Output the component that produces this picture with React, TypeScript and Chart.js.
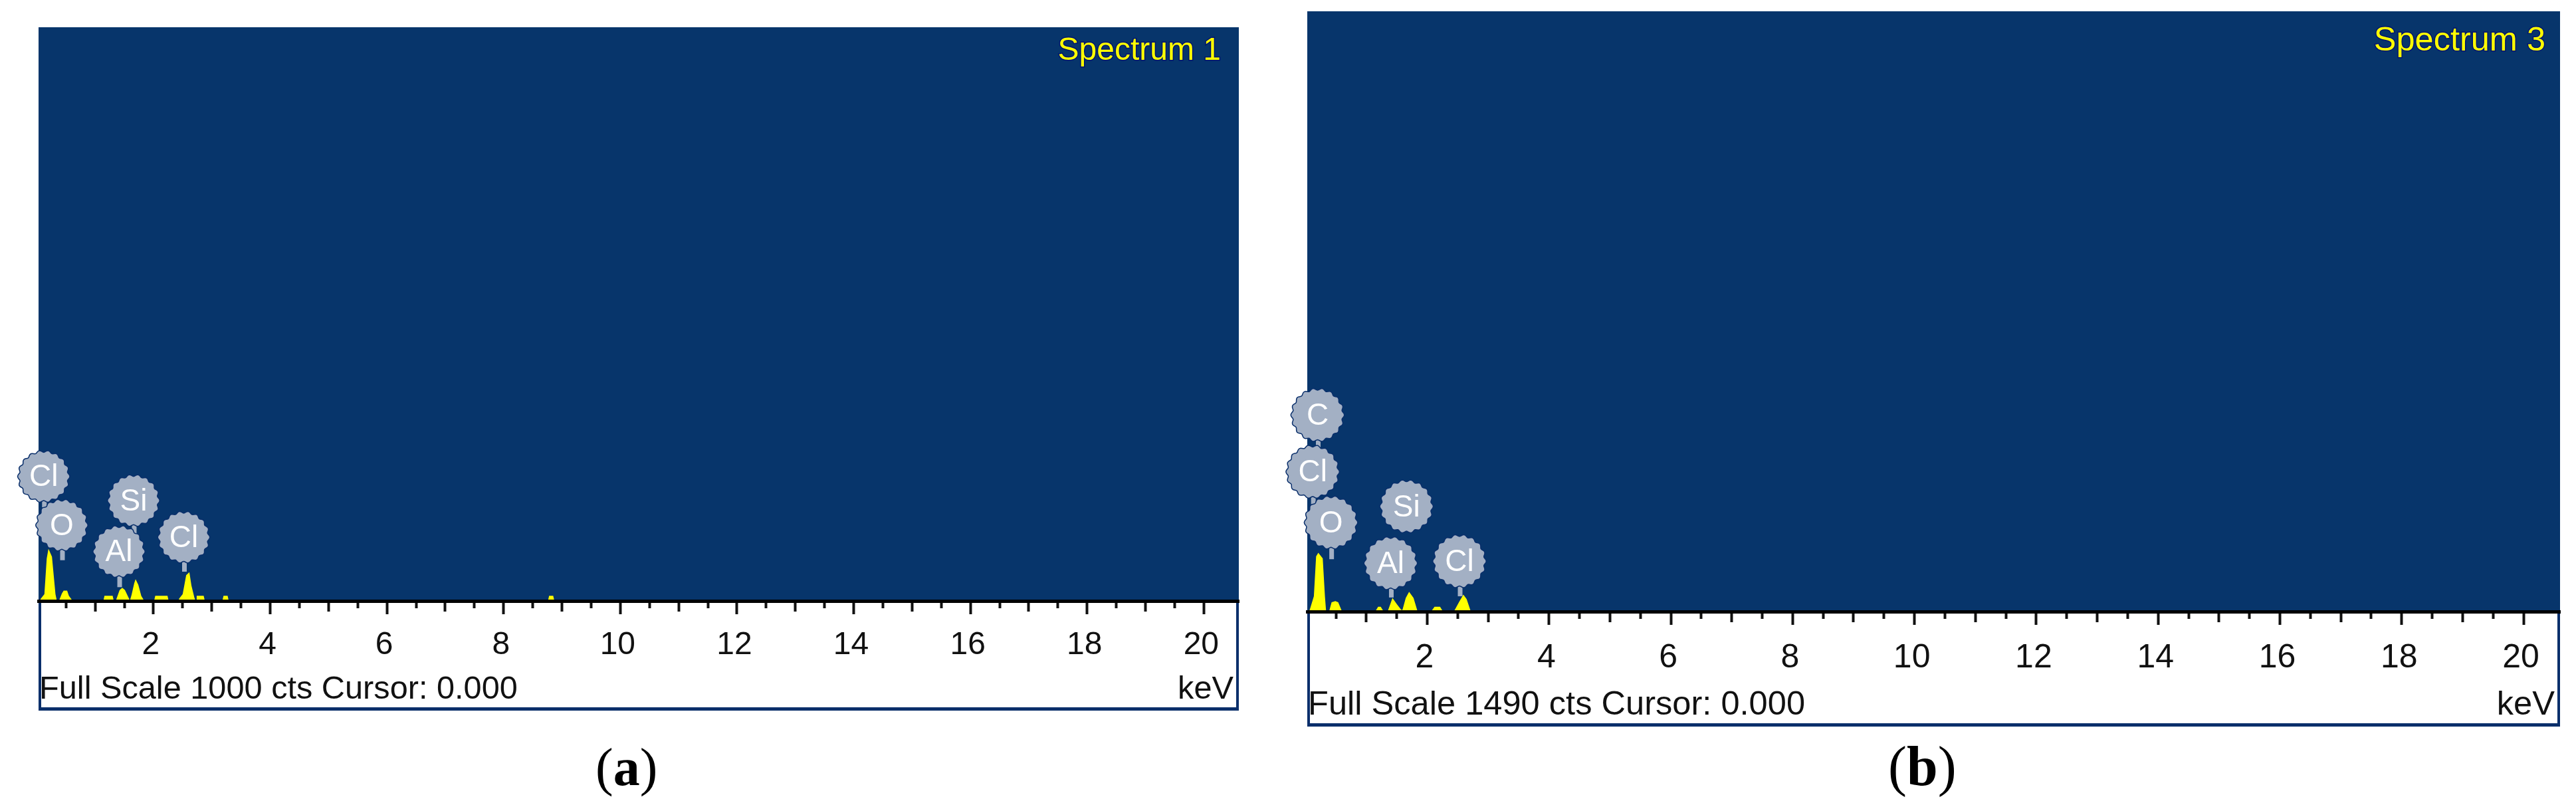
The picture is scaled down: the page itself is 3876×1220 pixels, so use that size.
import { useEffect, useRef } from 'react';
import Chart from 'chart.js/auto';

// Tick positions in keV (same for both spectra)
const longTicks = [2, 4, 6, 8, 10, 12, 14, 16, 18, 20];
const midTicks = [1, 3, 5, 7, 9, 11, 13, 15, 17, 19];
const shortTicks = [0.5, 1.5, 2.5, 3.5, 4.5, 5.5, 6.5, 7.5, 8.5, 9.5, 10.5, 11.5, 12.5, 13.5, 14.5, 15.5, 16.5, 17.5, 18.5, 19.5];

// Spectrum 1
const energy1 = [
  0.05, 0.07, 0.13, 0.17, 0.2, 0.26, 0.32, 0.34, 0.38, 0.39, 0.43, 0.46, 0.52, 0.55, 0.6, 0.62,
  1.14, 1.16, 1.3, 1.32, 1.36, 1.42, 1.465, 1.51, 1.59, 1.6, 1.625, 1.67, 1.693, 1.74, 1.79, 1.83, 1.85,
  2.01, 2.03, 2.24, 2.26, 2.43, 2.44, 2.5, 2.56, 2.615, 2.65, 2.7, 2.72, 2.73, 2.74, 2.86, 2.88,
  3.18, 3.2, 3.27, 3.29, 8.76, 8.78, 8.85, 8.87, 20.5,
];
const counts1 = [
  0, 4, 12, 74, 91, 77, 12, 2, 0, 3, 13, 18, 18, 9, 2, 0,
  0, 9, 9, 0, 2, 19, 23, 19, 2, 2, 11, 31, 38, 28, 9, 2, 0,
  0, 9, 9, 0, 0, 4, 12, 45, 50, 27, 6, 0, 0, 9, 9, 0,
  0, 9, 9, 0, 0, 9, 9, 0, 0,
];
const peakNames1 = ['Cl', 'O', 'Si', 'Al', 'Cl'];
const peakEnergy1 = [0.13, 0.44, 1.67, 1.42, 2.53];
const peakHeight1 = [217, 132, 175, 86, 111];
const peakStem1 = [163, 71, 112, 24, 51];

// Spectrum 3
const energy3 = [
  0.06, 0.084, 0.138, 0.175, 0.211, 0.284, 0.32, 0.338, 0.37, 0.393, 0.429, 0.491, 0.538, 0.593, 0.62,
  1.14, 1.157, 1.193, 1.236, 1.273, 1.29, 1.34, 1.356, 1.429, 1.502, 1.574, 1.593, 1.647, 1.702, 1.775, 1.836, 1.86,
  2.06, 2.076, 2.12, 2.21, 2.247, 2.26, 2.43, 2.447, 2.52, 2.593, 2.647, 2.709, 2.73, 20.5,
];
const counts3 = [
  0, 11, 38, 137, 146, 132, 38, 3, 0, 3, 23, 26, 23, 3, 0,
  0, 3, 12, 12, 3, 0, 0, 3, 34, 18, 4, 4, 34, 49, 34, 3, 0,
  0, 3, 12, 12, 3, 0, 0, 3, 23, 42, 31, 3, 0, 0,
];
const peakNames3 = ['C', 'Cl', 'O', 'Si', 'Al', 'Cl'];
const peakEnergy3 = [0.21, 0.13, 0.43, 1.67, 1.41, 2.54];
const peakHeight3 = [488, 347, 221, 261, 120, 125];
const peakStem3 = [396, 256, 130, 198, 35, 38];

const FONT = '"Liberation Sans", Arial, sans-serif';
const PANEL_BLUE = '#07356b';
const FRAME_BLUE = '#0a2f6b';

function badgePath(ctx: CanvasRenderingContext2D, cx: number, cy: number, r: number) {
  ctx.beginPath();
  for (let i = 0; i <= 144; i++) {
    const a = (i / 144) * Math.PI * 2;
    const rr = r + 1.5 * Math.cos(a * 18);
    if (i === 0) ctx.moveTo(cx + rr * Math.cos(a), cy + rr * Math.sin(a));
    else ctx.lineTo(cx + rr * Math.cos(a), cy + rr * Math.sin(a));
  }
  ctx.closePath();
}

interface PanelProps {
  left: number;
  width: number;
  panelLeft: number;
  panelRight: number;
  panelTop: number;
  baseline: number;
  panelBottom: number;
  fullScale: number;
  energy: number[];
  counts: number[];
  peakNames: string[];
  peakEnergy: number[];
  peakHeight: number[];
  peakStem: number[];
  badgeSize: number;
  title: string;
  titleSize: number;
  titleInset: number;
  titleDrop: number;
  footer: string;
  footerSize: number;
  tickSize: number;
  tickPadding: number;
}

const HEIGHT = 1110;
const AXIS_HEIGHT = 180;

const SpectrumPanel: React.FC<PanelProps> = (p) => {
  const canvasRef = useRef<HTMLCanvasElement>(null);

  useEffect(() => {
    if (!canvasRef.current) return;

    const panelPlugin = {
      id: 'panel',
      beforeDraw(chart: any) {
        const { ctx, chartArea } = chart;
        const { left, right, top, bottom } = chartArea;
        ctx.save();
        ctx.fillStyle = FRAME_BLUE;
        ctx.fillRect(left, bottom, right - left, p.panelBottom - bottom);
        ctx.fillStyle = PANEL_BLUE;
        ctx.fillRect(left, top, right - left, bottom - top);
        ctx.fillStyle = '#ffffff';
        ctx.fillRect(left + 4, bottom, right - left - 8, p.panelBottom - bottom - 5);
        ctx.restore();
      },
      afterDraw(chart: any) {
        const { ctx, chartArea, scales } = chart;
        ctx.save();

        // stems, then badges on top
        p.peakNames.forEach((_, i) => {
          const x = scales.x.getPixelForValue(p.peakEnergy[i]);
          ctx.fillStyle = '#a3b0c4';
          const y0 = scales.y.getPixelForValue(p.peakHeight[i]);
          const y1 = scales.y.getPixelForValue(p.peakStem[i]);
          ctx.fillRect(x - 3.5, y0, 7, y1 - y0);
        });
        p.peakNames.forEach((name, i) => {
          const x = scales.x.getPixelForValue(p.peakEnergy[i]) - 1;
          const y = scales.y.getPixelForValue(p.peakHeight[i]);
          badgePath(ctx, x, y, p.badgeSize);
          ctx.fillStyle = '#a3b0c4';
          ctx.strokeStyle = '#0a2f6b';
          ctx.lineWidth = 3;
          ctx.stroke();
          ctx.fill();
          ctx.fillStyle = '#ffffff';
          ctx.font = `46px ${FONT}`;
          ctx.textAlign = 'center';
          ctx.textBaseline = 'middle';
          ctx.fillText(name, x, y + 2);
        });

        // spectrum name
        ctx.font = `${p.titleSize}px ${FONT}`;
        ctx.textAlign = 'right';
        ctx.textBaseline = 'alphabetic';
        ctx.lineWidth = 3;
        ctx.strokeStyle = '#00146e';
        const titleX = chartArea.right - p.titleInset;
        const titleY = chartArea.top + p.titleDrop;
        ctx.strokeText(p.title, titleX, titleY);
        ctx.fillStyle = '#ffff00';
        ctx.fillText(p.title, titleX, titleY);

        // footer line
        ctx.fillStyle = '#111111';
        ctx.font = `${p.footerSize}px ${FONT}`;
        ctx.textAlign = 'left';
        ctx.fillText(p.footer, chartArea.left + 1, p.panelBottom - 18);
        ctx.textAlign = 'right';
        ctx.fillText('keV', chartArea.right - 8, p.panelBottom - 18);
        ctx.restore();
      },
    };

    const bareAxis = (values: number[], length: number) => ({
      type: 'linear' as const,
      axis: 'x' as const,
      position: { y: 0 },
      min: 0.03,
      max: 20.6,
      afterBuildTicks: (scale: any) => {
        scale.ticks = values.map((value) => ({ value }));
      },
      border: { display: false },
      grid: { drawOnChartArea: false, drawTicks: true, tickLength: length, tickColor: '#111111', tickWidth: 4 },
      ticks: { display: false },
    });

    const chart = new Chart(canvasRef.current, {
      type: 'line',
      data: {
        datasets: [
          {
            data: p.energy.map((x, i) => ({ x, y: p.counts[i] })),
            borderWidth: 0,
            pointRadius: 0,
            tension: 0,
            fill: 'origin',
            backgroundColor: '#ffff00',
            borderColor: '#ffff00',
          },
        ],
      },
      plugins: [panelPlugin],
      options: {
        animation: false,
        responsive: false,
        devicePixelRatio: 1,
        layout: {
          padding: {
            left: p.panelLeft,
            right: p.width - p.panelRight,
            top: p.panelTop,
            bottom: HEIGHT - p.baseline - AXIS_HEIGHT,
          },
        },
        plugins: {
          legend: { display: false },
          title: { display: false },
          tooltip: { enabled: false },
        },
        scales: {
          x: {
            type: 'linear',
            position: 'bottom',
            min: 0.03,
            max: 20.6,
            afterBuildTicks: (scale: any) => {
              scale.ticks = longTicks.map((value) => ({ value }));
            },
            afterFit: (scale: any) => {
              scale.height = AXIS_HEIGHT;
            },
            border: { display: true, color: '#000000', width: 5, z: 1 },
            grid: { drawOnChartArea: false, tickLength: 20, tickColor: '#111111', tickWidth: 4 },
            ticks: {
              autoSkip: false,
              maxRotation: 0,
              minRotation: 0,
              padding: p.tickPadding,
              labelOffset: -4,
              color: '#111111',
              font: { family: FONT, size: p.tickSize },
              callback: (value: any) => String(value),
            },
          },
          xMid: bareAxis(midTicks, 16),
          xShort: bareAxis(shortTicks, 11),
          y: {
            display: false,
            min: 0,
            max: p.fullScale,
          },
        },
      } as any,
    });

    return () => chart.destroy();
  }, [p]);

  return (
    <canvas
      ref={canvasRef}
      width={p.width}
      height={HEIGHT}
      style={{ position: 'absolute', left: p.left, top: 0, width: p.width, height: HEIGHT }}
    />
  );
};

const panelA: PanelProps = {
  left: 0,
  width: 1930,
  panelLeft: 58,
  panelRight: 1864,
  panelTop: 41,
  baseline: 904,
  panelBottom: 1069,
  fullScale: 1000,
  energy: energy1,
  counts: counts1,
  peakNames: peakNames1,
  peakEnergy: peakEnergy1,
  peakHeight: peakHeight1,
  peakStem: peakStem1,
  badgeSize: 37,
  title: 'Spectrum 1',
  titleSize: 48,
  titleInset: 27,
  titleDrop: 49,
  footer: 'Full Scale 1000 cts Cursor: 0.000',
  footerSize: 48.7,
  tickSize: 48,
  tickPadding: 18,
};

const panelB: PanelProps = {
  left: 1930,
  width: 1946,
  panelLeft: 37,
  panelRight: 1922,
  panelTop: 17,
  baseline: 920,
  panelBottom: 1093,
  fullScale: 1490,
  energy: energy3,
  counts: counts3,
  peakNames: peakNames3,
  peakEnergy: peakEnergy3,
  peakHeight: peakHeight3,
  peakStem: peakStem3,
  badgeSize: 38,
  title: 'Spectrum 3',
  titleSize: 50.5,
  titleInset: 22,
  titleDrop: 59,
  footer: 'Full Scale 1490 cts Cursor: 0.000',
  footerSize: 50.6,
  tickSize: 50,
  tickPadding: 20,
};

const captionStyle: React.CSSProperties = {
  position: 'absolute',
  fontFamily: '"Liberation Serif", "Times New Roman", serif',
  lineHeight: '84px',
  color: '#000',
};

export default function App() {
  return (
    <div style={{ position: 'absolute', left: 0, top: 0, width: 3876, height: 1220, background: '#fff', overflow: 'hidden' }}>
      <SpectrumPanel {...panelA} />
      <SpectrumPanel {...panelB} />
      <div style={{ ...captionStyle, left: 896, top: 1112, fontSize: 80 }}>(<b>a</b>)</div>
      <div style={{ ...captionStyle, left: 2841, top: 1111, fontSize: 84 }}>(<b>b</b>)</div>
    </div>
  );
}
